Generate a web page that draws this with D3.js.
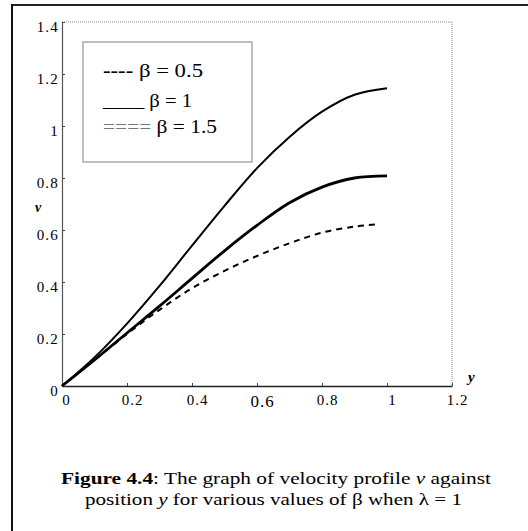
<!DOCTYPE html>
<html>
<head>
<meta charset="utf-8">
<script src="https://cdn.jsdelivr.net/npm/d3@7"></script>
<style>
  html, body { margin: 0; padding: 0; background: #fff; }
  svg { display: block; }
  text { font-family: "Liberation Serif", "Times New Roman", serif; fill: #000; }
</style>
</head>
<body>
<svg id="chart" width="528" height="531"></svg>
<script>
// ---- data ----
const yPos = [0, 0.1, 0.2, 0.3, 0.4, 0.5, 0.6, 0.7, 0.8, 0.9, 1.0];
const vBeta15 = [0, 0.11, 0.24, 0.385, 0.54, 0.693, 0.838, 0.958, 1.055, 1.12, 1.145];
const vBeta1 = [0, 0.1, 0.204, 0.307, 0.414, 0.52, 0.618, 0.705, 0.765, 0.80, 0.808];
const yPosDashed = [0, 0.1, 0.2, 0.3, 0.4, 0.5, 0.6, 0.7, 0.8, 0.9, 0.97];
const vBeta05 = [0, 0.1, 0.2, 0.293, 0.376, 0.443, 0.50, 0.549, 0.59, 0.613, 0.622];
const xTicks = [0, 0.2, 0.4, 0.6, 0.8, 1, 1.2];
const yTicks = [0, 0.2, 0.4, 0.6, 0.8, 1, 1.2, 1.4];
const legendItems = [
  { mark: "----", label: "β = 0.5", bold: true, color: "#000" },
  { mark: "____", label: "β = 1", bold: false, color: "#000" },
  { mark: "====", label: "β = 1.5", bold: false, color: "#777" }
];

(function () {
const svg = d3.select("#chart");
const pLeft = 62, pRight = 452, pTop = 22, pBottom = 386;
const serif = "'Liberation Serif', 'Times New Roman', serif";

const x = d3.scaleLinear().domain([0, 1.2]).range([pLeft, pRight]);
const y = d3.scaleLinear().domain([0, 1.4]).range([pBottom, pTop]);

// outer figure border (top and left)
svg.append("line").attr("x1", 11).attr("x2", 528).attr("y1", 5).attr("y2", 5)
  .attr("stroke", "#222").attr("stroke-width", 2);
svg.append("line").attr("x1", 12).attr("x2", 12).attr("y1", 4).attr("y2", 531)
  .attr("stroke", "#111").attr("stroke-width", 2);

// plot frame: top and right dotted gray
svg.append("line").attr("x1", pLeft).attr("x2", pRight).attr("y1", pTop).attr("y2", pTop)
  .attr("stroke", "#888").attr("stroke-width", 1).attr("stroke-dasharray", "1,1");
svg.append("line").attr("x1", pRight).attr("x2", pRight).attr("y1", pTop).attr("y2", pBottom)
  .attr("stroke", "#888").attr("stroke-width", 1).attr("stroke-dasharray", "1,1");

// x axis
const xAxis = d3.axisBottom(x).tickValues(xTicks).tickSizeInner(-3).tickSizeOuter(0)
  .tickFormat(d => d3.format("")(d));
const gx = svg.append("g").attr("transform", `translate(0,${pBottom})`).call(xAxis);
gx.attr("font-family", serif);
gx.select(".domain").attr("stroke", "#222").attr("stroke-width", 1.5);
gx.selectAll(".tick line").attr("stroke", "#444");
gx.selectAll(".tick text")
  .attr("font-family", serif)
  .attr("font-size", d => d === 0.6 ? 17 : 15)
  .attr("letter-spacing", 1)
  .attr("y", d => d === 0.6 ? 9 : 8)
  .attr("dx", d => d === 0 ? 4 : 5)
  .attr("fill", "#000");

// y axis
const yAxis = d3.axisLeft(y).tickValues(yTicks).tickSizeInner(-3).tickSizeOuter(0)
  .tickFormat(d => d3.format("")(d));
const gy = svg.append("g").attr("transform", `translate(${pLeft},0)`).call(yAxis);
gy.attr("font-family", serif);
gy.select(".domain").attr("stroke", "#555").attr("stroke-width", 1.2);
gy.selectAll(".tick line").attr("stroke", "#444");
gy.selectAll(".tick text")
  .attr("font-family", serif)
  .attr("font-size", 15)
  .attr("letter-spacing", 1.2)
  .attr("x", -3)
  .attr("dy", "0.75em")
  .attr("y", -2)
  .attr("fill", "#000");

// axis titles
svg.append("text").attr("x", 35).attr("y", 212).attr("font-family", serif)
  .attr("font-size", 14).attr("font-weight", "bold").attr("font-style", "italic").text("v");
svg.append("text").attr("x", 468).attr("y", 382).attr("font-family", serif)
  .attr("font-size", 15).attr("font-weight", "bold").attr("font-style", "italic").text("y");

// curves
const line = d3.line().x(d => x(d[0])).y(d => y(d[1])).curve(d3.curveCatmullRom.alpha(0.5));
svg.append("path").datum(yPos.map((p, i) => [p, vBeta15[i]]))
  .attr("d", line).attr("fill", "none").attr("stroke", "#000").attr("stroke-width", 2);
svg.append("path").datum(yPos.map((p, i) => [p, vBeta1[i]]))
  .attr("d", line).attr("fill", "none").attr("stroke", "#000").attr("stroke-width", 2.8);
svg.append("path").datum(yPosDashed.map((p, i) => [p, vBeta05[i]]))
  .attr("d", line).attr("fill", "none").attr("stroke", "#000").attr("stroke-width", 2)
  .attr("stroke-dasharray", "6,5");

// legend
svg.append("rect").attr("x", 83).attr("y", 42).attr("width", 169).attr("height", 120)
  .attr("fill", "#fff").attr("stroke", "#aaa").attr("stroke-width", 1.5);
const legY = [77, 107, 133];
const legLen = [100, 89, 114];
const lg = svg.append("g");
legendItems.forEach((it, i) => {
  const t = lg.append("text").attr("x", 103).attr("y", legY[i]).attr("font-size", 18)
    .attr("font-family", serif)
    .attr("textLength", legLen[i]).attr("lengthAdjust", "spacingAndGlyphs");
  t.append("tspan").attr("font-weight", it.bold ? "bold" : "normal")
    .attr("fill", it.color).text(it.mark);
  t.append("tspan").text(" " + it.label);
});

// caption
const cap1 = svg.append("text").attr("x", 61).attr("y", 484).attr("font-family", serif)
  .attr("font-size", 17.5).attr("textLength", 430).attr("lengthAdjust", "spacingAndGlyphs");
cap1.append("tspan").attr("font-weight", "bold").text("Figure 4.4");
cap1.append("tspan").text(": The graph of velocity profile ");
cap1.append("tspan").attr("font-style", "italic").text("v");
cap1.append("tspan").text(" against");
const cap2 = svg.append("text").attr("x", 85).attr("y", 505).attr("font-family", serif)
  .attr("font-size", 17.5).attr("textLength", 377).attr("lengthAdjust", "spacingAndGlyphs");
cap2.append("tspan").text("position ");
cap2.append("tspan").attr("font-style", "italic").text("y");
cap2.append("tspan").text(" for various values of β when λ = 1");
})();
</script>
</body>
</html>
